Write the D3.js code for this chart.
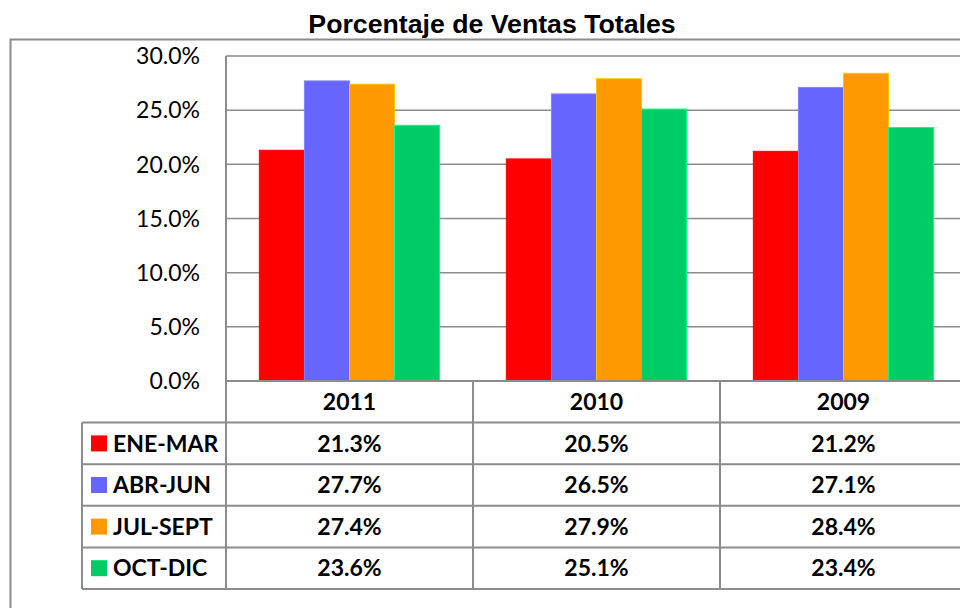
<!DOCTYPE html>
<html>
<head>
<meta charset="utf-8">
<script src="https://cdn.jsdelivr.net/npm/d3@7"></script>
<style>
  body { margin: 0; background: #fff; }
  svg { display: block; }
</style>
</head>
<body>
<script>
var years = ["2011", "2010", "2009"];
var periods = ["ENE-MAR", "ABR-JUN", "JUL-SEPT", "OCT-DIC"];
var colors = ["#FF0000", "#6666FF", "#FF9900", "#00CC66"];
// rows = periods, columns = years
var values = [
    [21.3, 20.5, 21.2],
    [27.7, 26.5, 27.1],
    [27.4, 27.9, 28.4],
    [23.6, 25.1, 23.4]
];
var yTicks = [0, 5, 10, 15, 20, 25, 30];

var width = 960, height = 608;
var gridColor = "#8c8c8c";

var svg = d3.select("body")
    .append("svg")
    .attr("width", width)
    .attr("height", height);

// outer chart border
svg.append("rect")
    .attr("x", 10.5)
    .attr("y", 39.5)
    .attr("width", 1000)
    .attr("height", 700)
    .attr("fill", "none")
    .attr("stroke", gridColor)
    .attr("stroke-width", 2);

svg.append("text")
    .attr("x", 492)
    .attr("y", 33)
    .attr("text-anchor", "middle")
    .attr("font-family", "'Liberation Sans', Arial, sans-serif")
    .attr("font-weight", "bold")
    .attr("font-size", 26.7)
    .text("Porcentaje de Ventas Totales");

var x0 = d3.scaleBand().domain(years).range([226, 967]);
var bw = x0.bandwidth();
var x1 = d3.scaleBand().domain(periods).range([bw * 0.135, bw * 0.865]);
var y = d3.scaleLinear().domain([0, 30]).range([381, 56]);

// gridlines
svg.append("g").selectAll("line")
    .data(yTicks)
    .enter().append("line")
    .attr("x1", 226)
    .attr("x2", 967)
    .attr("y1", function(d){ return y(d); })
    .attr("y2", function(d){ return y(d); })
    .attr("stroke", gridColor)
    .attr("stroke-width", 1.5);

// y axis labels
svg.append("g").selectAll("text")
    .data(yTicks)
    .enter().append("text")
    .attr("x", 200)
    .attr("y", function(d){ return y(d); })
    .attr("dy", "0.36em")
    .attr("text-anchor", "end")
    .attr("font-family", "Lato, sans-serif")
    .attr("font-size", 23)
    .text(function(d){ return d.toFixed(1) + "%"; });

svg.append("line")
    .attr("x1", 226).attr("x2", 226)
    .attr("y1", y(30)).attr("y2", 589)
    .attr("stroke", gridColor)
    .attr("stroke-width", 2);

// bars
var groups = svg.append("g").selectAll("g")
    .data(years)
    .enter().append("g")
    .attr("transform", function(d){ return "translate(" + x0(d) + ",0)"; });

groups.selectAll("rect")
    .data(function(d, j){
        return periods.map(function(p, i){ return {p: p, i: i, v: values[i][j]}; });
    })
    .enter().append("rect")
    .attr("x", function(d){ return x1(d.p); })
    .attr("width", x1.bandwidth())
    .attr("y", function(d){ return y(d.v); })
    .attr("height", function(d){ return y(0) - y(d.v); })
    .attr("fill", function(d){ return colors[d.i]; })
    .attr("stroke", function(d){ return d3.color(colors[d.i]).brighter(0.7); })
    .attr("stroke-width", 1);

// data table
var rowH = 41.6;
var tableTop = 381;
var legendLeft = 82;
var rowY = function(k){ return tableTop + rowH * k; };

var tbl = svg.append("g");

// horizontal lines
tbl.selectAll("line.h")
    .data(d3.range(0, periods.length + 2))
    .enter().append("line")
    .attr("class", "h")
    .attr("x1", function(k){ return k == 0 ? 226 : legendLeft; })
    .attr("x2", 967)
    .attr("y1", function(k){ return rowY(k); })
    .attr("y2", function(k){ return rowY(k); })
    .attr("stroke", gridColor)
    .attr("stroke-width", 2);

// vertical lines between years
tbl.selectAll("line.v")
    .data(years.slice(1))
    .enter().append("line")
    .attr("class", "v")
    .attr("x1", function(d){ return x0(d); })
    .attr("x2", function(d){ return x0(d); })
    .attr("y1", rowY(0))
    .attr("y2", rowY(5))
    .attr("stroke", gridColor)
    .attr("stroke-width", 2);

tbl.append("line")
    .attr("x1", legendLeft).attr("x2", legendLeft)
    .attr("y1", rowY(1)).attr("y2", rowY(5))
    .attr("stroke", gridColor)
    .attr("stroke-width", 2);

// header years
tbl.selectAll("text.year")
    .data(years)
    .enter().append("text")
    .attr("class", "year")
    .attr("x", function(d){ return x0(d) + bw / 2; })
    .attr("y", rowY(0.5))
    .attr("dy", "0.36em")
    .attr("text-anchor", "middle")
    .attr("font-family", "Lato, sans-serif")
    .attr("font-weight", "bold")
    .attr("font-size", 23)
    .text(function(d){ return d; });

// legend keys + labels
periods.forEach(function(p, i){
    var cy = rowY(i + 1.5);
    tbl.append("rect")
        .attr("x", 91)
        .attr("y", cy - 8)
        .attr("width", 16)
        .attr("height", 16)
        .attr("fill", colors[i]);
    tbl.append("text")
        .attr("x", 113)
        .attr("y", cy)
        .attr("dy", "0.36em")
        .attr("font-family", "Lato, sans-serif")
        .attr("font-weight", "bold")
        .attr("font-size", 23)
        .text(p);
    years.forEach(function(yr, j){
        tbl.append("text")
            .attr("x", x0(yr) + bw / 2)
            .attr("y", cy)
            .attr("dy", "0.36em")
            .attr("text-anchor", "middle")
            .attr("font-family", "Lato, sans-serif")
            .attr("font-weight", "bold")
            .attr("font-size", 23)
            .text(values[i][j].toFixed(1) + "%");
    });
});
</script>
</body>
</html>
